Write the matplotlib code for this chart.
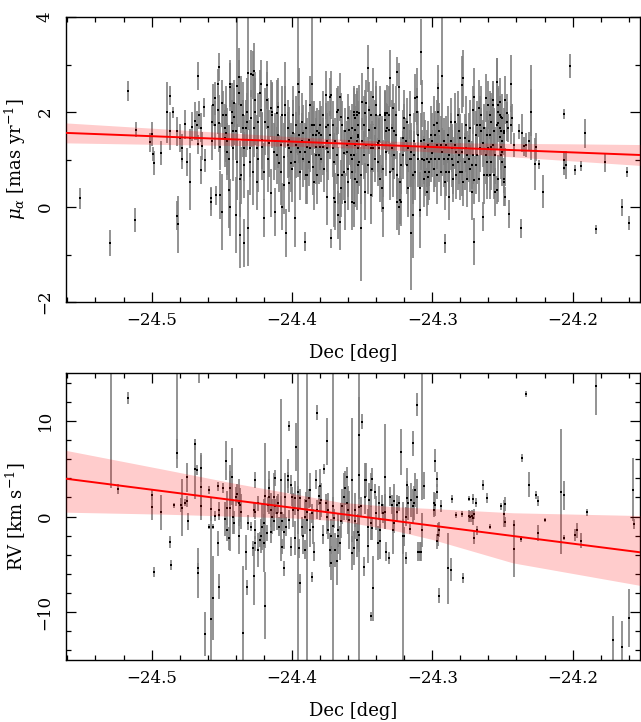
import matplotlib
matplotlib.use('Agg')
from matplotlib import pyplot as plt
from matplotlib.ticker import MultipleLocator

plt.rcParams['font.family'] = 'DejaVu Serif'
plt.rcParams['mathtext.fontset'] = 'dejavuserif'

# ---------------- top panel: proper motion in RA vs Dec ----------------
# sparse left part
pm_dec_a = [-24.551, -24.530, -24.517, -24.512, -24.511, -24.501, -24.500, -24.499, -24.498, -24.493,
            -24.489, -24.487, -24.487, -24.485, -24.482, -24.482, -24.481, -24.480, -24.478, -24.478,
            -24.476, -24.475, -24.473, -24.473, -24.471, -24.469, -24.468, -24.467, -24.467, -24.466,
            -24.465, -24.465, -24.464, -24.463, -24.462]
pm_a = [0.18, -0.76, 2.44, -0.27, 1.63, 1.36, 1.54, 1.11, 0.93, 1.13,
        1.99, 2.34, 1.61, 1.99, 1.59, -0.18, -0.36, 1.45, 1.24, 1.01,
        1.74, 0.95, 0.53, 1.45, 1.69, 1.81, 1.72, 2.76, 1.32, 1.94,
        1.67, 0.78, 1.28, 2.10, 0.98]
pm_err_a = [0.23, 0.27, 0.21, 0.25, 0.15, 0.20, 0.25, 0.15, 0.25, 0.25,
            0.64, 0.20, 0.40, 0.12, 0.30, 0.30, 0.60, 0.30, 0.30, 0.20,
            0.30, 0.30, 0.60, 0.20, 0.30, 0.40, 0.30, 0.30, 0.20, 0.30,
            0.30, 0.30, 0.30, 0.20, 0.25]

# dense part, -24.46 .. -24.35
pm_dec_b = [-24.458, -24.458, -24.457, -24.457, -24.456, -24.455, -24.455, -24.454, -24.453, -24.453,
            -24.452, -24.452, -24.451, -24.451, -24.450, -24.450, -24.449, -24.448, -24.448, -24.447,
            -24.447, -24.446, -24.446, -24.445, -24.445, -24.444, -24.444, -24.444, -24.443, -24.443,
            -24.442, -24.442, -24.441, -24.441, -24.440, -24.440, -24.439, -24.439, -24.438, -24.438,
            -24.437, -24.437, -24.436, -24.436, -24.435, -24.435, -24.434, -24.434, -24.434, -24.433,
            -24.432, -24.432, -24.431, -24.431, -24.430, -24.430, -24.429, -24.429, -24.428, -24.428,
            -24.427, -24.427, -24.426, -24.426, -24.425, -24.425, -24.424, -24.424, -24.423, -24.422,
            -24.422, -24.421, -24.421, -24.420, -24.420, -24.419, -24.418, -24.418, -24.417, -24.417,
            -24.416, -24.415, -24.415, -24.414, -24.414, -24.413, -24.412, -24.412, -24.411, -24.411,
            -24.410, -24.410, -24.409, -24.408, -24.408, -24.407, -24.407, -24.406, -24.406, -24.405,
            -24.405, -24.404, -24.403, -24.403, -24.402, -24.402, -24.402, -24.401, -24.401, -24.400,
            -24.399, -24.399, -24.398, -24.398, -24.397, -24.397, -24.396, -24.396, -24.395, -24.395,
            -24.394, -24.394, -24.393, -24.393, -24.392, -24.392, -24.391, -24.391, -24.390, -24.390,
            -24.389, -24.389, -24.388, -24.388, -24.387, -24.387, -24.386, -24.386, -24.385, -24.385,
            -24.384, -24.384, -24.383, -24.383, -24.383, -24.382, -24.382, -24.381, -24.381, -24.380,
            -24.380, -24.379, -24.379, -24.378, -24.378, -24.377, -24.376, -24.376, -24.375, -24.375,
            -24.375, -24.374, -24.374, -24.373, -24.373, -24.372, -24.372, -24.371, -24.371, -24.370,
            -24.370, -24.369, -24.369, -24.368, -24.368, -24.367, -24.367, -24.367, -24.366, -24.366,
            -24.365, -24.365, -24.364, -24.364, -24.363, -24.363, -24.362, -24.362, -24.361, -24.361,
            -24.360, -24.360, -24.360, -24.359, -24.359, -24.358, -24.358, -24.357, -24.357, -24.356,
            -24.356, -24.355, -24.355, -24.354, -24.354, -24.353, -24.353]
pm_b = [0.18, 0.11, 1.80, 1.38, 2.15, 2.29, 1.73, 0.25, 2.60, 2.04,
        2.95, 1.76, 1.27, 0.25, -0.10, 2.18, 1.94, 1.45, 1.66, 1.94,
        1.55, 1.38, 1.16, 1.02, 0.36, 2.53, 2.60, -0.01, 2.01, 1.76,
        1.59, 1.24, 2.18, 1.90, 1.59, -0.17, 0.95, 2.55, 2.74, 2.39,
        -0.59, 0.60, 0.67, 2.15, 1.94, 1.66, 1.24, -0.76, 0.88, 1.66,
        2.01, 1.80, 2.83, -0.45, 0.95, 1.24, 1.87, 2.81, 2.78, 0.74,
        1.66, 2.86, 2.01, 2.25, 1.24, 0.53, 1.80, 1.02, 2.39, 2.04,
        2.60, 1.41, 1.27, 0.74, -0.24, 1.80, 2.25, 2.57, 1.02, 1.69,
        1.34, 2.08, 0.29, 2.01, 1.94, 1.16, -0.10, 1.38, 1.97, 1.09,
        2.11, 1.52, 0.92, 0.74, 1.31, 1.94, 0.01, 1.06, 0.46, 2.15,
        1.94, -0.55, 1.31, 1.66, 0.50, 1.24, 1.41, 0.92, 1.16, 0.81,
        1.94, 1.55, -0.24, 0.95, 1.31, 1.73, 1.24, 2.60, 2.43, 1.52,
        1.16, 0.74, 1.80, 1.38, 1.02, 1.55, 1.16, -0.73, 0.67, 1.66,
        1.27, 0.67, 0.95, 1.41, 1.24, 2.15, 2.60, 1.73, 0.85, 1.52,
        0.53, 1.73, 1.09, 1.52, 1.27, 1.59, 0.67, 1.55, 1.09, 1.73,
        1.27, 1.52, 1.02, 1.94, 1.27, 0.81, 2.36, 1.69, 1.38, 1.24,
        0.22, 1.73, 1.16, 1.52, 2.32, 2.36, -0.66, 1.73, 1.24, 0.18,
        0.95, 1.38, 0.11, 1.09, 2.01, 2.04, -0.17, 0.67, -0.31, 2.32,
        0.39, 1.90, 1.73, 0.67, 1.13, 0.74, 1.59, 0.11, 1.16, 1.31,
        1.87, 0.81, 0.53, 1.38, 1.62, 1.45, 1.09, 0.11, 1.66, 2.01,
        1.09, 1.87, 0.60, 1.38, 2.01, 1.24, 1.52]
pm_err_b = [0.25, 0.3, 0.35, 0.4, 0.45, 0.35, 0.5, 0.2, 0.3, 0.5,
            0.3, 0.6, 0.5, 0.5, 0.8, 0.5, 0.5, 0.6, 0.5, 0.6,
            0.6, 0.7, 0.6, 0.7, 0.8, 0.5, 0.5, 0.6, 0.6, 0.5,
            0.6, 0.7, 0.5, 0.6, 0.6, 0.8, 0.8, 1.6, 0.6, 0.7,
            0.7, 0.8, 0.6, 0.6, 0.7, 0.6, 0.7, 0.5, 0.7, 0.6,
            0.7, 0.6, 1.2, 0.8, 0.7, 0.6, 0.6, 0.5, 0.5, 0.7,
            0.6, 0.6, 0.7, 0.6, 0.7, 0.6, 0.6, 0.7, 0.5, 0.6,
            0.5, 0.6, 0.7, 0.6, 0.4, 0.7, 0.6, 0.5, 0.7, 0.6,
            0.7, 0.6, 0.5, 0.6, 0.7, 0.6, 0.5, 0.6, 0.7, 0.6,
            0.6, 0.7, 0.6, 0.7, 0.6, 0.6, 0.5, 0.7, 0.6, 0.9,
            0.6, 0.5, 0.7, 0.6, 0.6, 0.6, 0.7, 0.6, 0.6, 0.7,
            0.6, 0.7, 0.6, 0.6, 0.7, 0.6, 0.6, 1.5, 0.5, 0.6,
            0.6, 0.6, 0.6, 0.6, 0.6, 0.6, 0.6, 0.2, 0.6, 0.6,
            0.6, 0.6, 0.5, 0.6, 0.5, 0.6, 1.5, 0.5, 0.6, 0.6,
            0.6, 0.5, 0.6, 0.5, 0.6, 0.5, 0.6, 0.5, 0.6, 0.5,
            0.5, 0.6, 0.5, 0.5, 0.6, 0.5, 0.5, 0.5, 0.6, 0.5,
            0.6, 0.5, 0.6, 0.5, 0.4, 0.5, 0.2, 0.5, 0.6, 0.6,
            0.6, 0.5, 0.6, 0.6, 0.5, 0.5, 0.5, 0.6, 0.6, 0.5,
            0.6, 0.5, 0.5, 0.6, 0.5, 0.6, 0.5, 0.6, 0.5, 0.5,
            0.5, 0.6, 0.6, 0.5, 0.5, 0.6, 0.5, 0.6, 0.5, 0.5,
            0.5, 0.5, 0.6, 0.5, 0.5, 0.5, 0.5]

# dense part, -24.36 .. -24.25
pm_dec_c = [-24.357, -24.357, -24.356, -24.356, -24.355, -24.355, -24.354, -24.354, -24.353, -24.353,
            -24.353, -24.352, -24.352, -24.351, -24.351, -24.350, -24.350, -24.349, -24.349, -24.348,
            -24.348, -24.347, -24.347, -24.346, -24.346, -24.345, -24.345, -24.344, -24.344, -24.344,
            -24.343, -24.343, -24.342, -24.342, -24.341, -24.341, -24.340, -24.340, -24.339, -24.339,
            -24.338, -24.338, -24.337, -24.337, -24.336, -24.336, -24.335, -24.335, -24.334, -24.334,
            -24.334, -24.333, -24.333, -24.332, -24.332, -24.331, -24.331, -24.330, -24.330, -24.329,
            -24.329, -24.328, -24.328, -24.327, -24.327, -24.326, -24.326, -24.325, -24.325, -24.325,
            -24.324, -24.324, -24.323, -24.323, -24.322, -24.322, -24.321, -24.321, -24.320, -24.320,
            -24.319, -24.318, -24.318, -24.317, -24.317, -24.316, -24.316, -24.315, -24.315, -24.315,
            -24.314, -24.314, -24.313, -24.313, -24.312, -24.312, -24.311, -24.311, -24.310, -24.310,
            -24.309, -24.309, -24.308, -24.308, -24.307, -24.307, -24.306, -24.306, -24.306, -24.305,
            -24.305, -24.304, -24.304, -24.303, -24.303, -24.302, -24.302, -24.301, -24.301, -24.300,
            -24.300, -24.299, -24.299, -24.298, -24.298, -24.297, -24.297, -24.297, -24.296, -24.296,
            -24.295, -24.295, -24.294, -24.294, -24.293, -24.293, -24.292, -24.292, -24.291, -24.291,
            -24.290, -24.290, -24.289, -24.289, -24.288, -24.288, -24.288, -24.287, -24.287, -24.286,
            -24.286, -24.285, -24.285, -24.284, -24.284, -24.283, -24.283, -24.282, -24.282, -24.281,
            -24.281, -24.280, -24.280, -24.279, -24.279, -24.279, -24.278, -24.278, -24.277, -24.277,
            -24.276, -24.276, -24.275, -24.275, -24.274, -24.274, -24.273, -24.273, -24.272, -24.272,
            -24.271, -24.271, -24.270, -24.270, -24.270, -24.269, -24.269, -24.268, -24.268, -24.267,
            -24.267, -24.266, -24.266, -24.265, -24.265, -24.264, -24.264, -24.263, -24.263, -24.262,
            -24.262, -24.261, -24.261, -24.261, -24.260, -24.260, -24.259, -24.259, -24.258, -24.258,
            -24.257, -24.257, -24.256, -24.256, -24.255, -24.255, -24.254, -24.254, -24.253, -24.253,
            -24.252, -24.252, -24.251, -24.251, -24.250, -24.250, -24.249, -24.249]
pm_c = [1.02, 0.74, 0.08, 1.94, 1.31, 1.62, 0.53, 1.94, 0.88, 1.73,
        1.48, 0.95, 1.97, -0.45, 0.67, 1.38, 2.22, 1.09, 1.73, 0.32,
        1.97, 1.31, 2.18, 2.92, 0.88, 1.62, 2.04, 1.24, 0.25, 1.94,
        0.81, 1.31, 2.32, 1.24, 1.66, 1.02, 1.94, 2.15, 1.34, 0.95,
        1.24, 1.38, 1.94, 0.60, 1.31, 0.39, 0.81, -0.03, 1.94, 1.83,
        1.97, 1.59, 1.16, 1.97, 1.66, 1.94, 1.62, 2.71, 0.74, 1.24,
        1.66, 2.08, 0.81, 1.09, 1.59, 1.52, 1.94, 0.67, 0.11, 2.85,
        2.53, 0.01, 0.15, 0.53, 0.11, 0.88, 1.09, 1.45, 1.66, 1.87,
        1.38, 0.88, 1.80, 0.39, 1.24, 1.02, 1.94, 1.16, -0.55, 1.02,
        -0.17, 0.67, 1.09, 1.38, 2.29, 0.74, 2.01, 2.32, 1.52, 1.02,
        0.39, -0.06, 1.38, 3.26, 1.02, 2.18, 0.60, 0.99, 1.41, 0.74,
        1.24, 0.32, 1.02, 1.31, 0.64, 0.95, 0.74, 1.02, 1.52, 1.13,
        1.38, 0.81, 1.73, 1.52, 1.02, 1.31, 0.67, 1.76, 2.50, 2.01,
        1.02, 1.59, 0.74, 1.31, 2.76, 1.16, 1.02, 1.38, 0.53, -0.76,
        0.74, 1.31, 1.02, 1.52, 0.22, 1.09, 0.74, 1.38, 1.80, 1.02,
        1.24, 0.88, 0.60, 1.80, 1.31, 1.16, 0.67, 0.95, 1.94, 1.09,
        1.59, 0.74, 1.45, 2.57, 0.74, 1.16, 0.53, 2.71, 1.45, 0.95,
        1.24, 1.73, 1.09, 0.60, 1.02, 1.38, 0.81, 1.66, 0.88, 0.32,
        2.04, 1.09, 0.57, -0.73, 2.32, 1.52, 0.88, 1.73, 1.09, 0.60,
        2.08, 1.24, 1.73, 1.59, 1.94, -0.20, 1.34, 0.67, 1.66, 1.09,
        2.29, 0.95, 1.52, 0.67, 2.15, 1.24, 1.94, 1.52, 0.95, 1.80,
        2.15, 1.31, 0.67, 1.59, 1.09, 0.32, 1.73, 2.64, 2.01, 0.60,
        2.22, 1.48, 1.09, 1.27, 1.87, 0.95, 1.59, 0.53]
pm_err_c = [0.5, 0.6, 0.5, 0.6, 0.6, 0.5, 0.6, 0.5, 0.6, 0.5,
            0.6, 0.5, 0.6, 1.1, 0.6, 0.5, 0.6, 0.5, 0.6, 0.6,
            0.5, 0.6, 0.5, 0.5, 0.6, 0.5, 0.6, 0.5, 0.6, 0.5,
            0.6, 0.5, 0.6, 0.5, 0.6, 0.5, 0.6, 0.5, 0.6, 0.5,
            0.6, 0.5, 0.6, 0.5, 0.6, 0.5, 0.6, 0.6, 0.5, 0.6,
            0.5, 0.6, 0.5, 0.6, 0.5, 0.6, 0.5, 0.6, 0.6, 0.5,
            0.6, 0.5, 0.6, 0.5, 0.6, 0.5, 0.6, 0.5, 0.6, 0.3,
            0.5, 0.6, 0.5, 0.6, 0.5, 0.6, 0.5, 0.6, 0.5, 0.6,
            0.5, 0.6, 0.5, 0.6, 0.5, 0.6, 0.5, 0.6, 1.2, 0.6,
            0.9, 0.6, 0.5, 0.6, 0.5, 0.6, 0.5, 0.6, 0.5, 0.6,
            0.6, 0.8, 0.6, 0.7, 0.6, 0.5, 0.6, 0.5, 0.6, 0.5,
            0.6, 0.5, 0.6, 0.5, 0.6, 0.5, 0.6, 0.5, 0.6, 0.5,
            0.6, 0.5, 0.6, 0.5, 0.6, 0.5, 0.6, 0.5, 0.5, 0.6,
            0.5, 0.6, 0.5, 0.6, 1.4, 0.5, 0.6, 0.5, 0.6, 0.2,
            0.5, 0.6, 0.5, 0.6, 0.5, 0.6, 0.5, 0.6, 0.5, 0.6,
            0.5, 0.6, 0.5, 0.6, 0.5, 0.6, 0.5, 0.6, 0.5, 0.6,
            0.5, 0.6, 0.5, 0.6, 0.5, 0.6, 0.5, 0.6, 0.5, 0.6,
            0.5, 0.6, 0.5, 0.6, 0.5, 0.6, 0.5, 0.6, 0.5, 0.6,
            0.5, 0.6, 0.5, 0.5, 0.6, 0.5, 0.6, 0.5, 0.6, 0.5,
            0.6, 0.5, 0.6, 0.5, 0.6, 0.3, 0.5, 0.6, 0.5, 0.6,
            0.5, 0.6, 0.5, 0.5, 0.5, 0.6, 0.5, 0.5, 0.6, 0.5,
            0.5, 0.6, 0.5, 0.5, 0.6, 0.5, 0.5, 0.5, 0.5, 0.5,
            0.5, 0.5, 0.5, 0.5, 0.5, 0.5, 0.5, 0.5]

# right part, thinning out
pm_dec_d = [-24.258, -24.258, -24.259, -24.257, -24.257, -24.254, -24.254, -24.253, -24.253, -24.252,
            -24.252, -24.251, -24.251, -24.250, -24.250, -24.249, -24.248, -24.249, -24.248, -24.248,
            -24.247, -24.247, -24.246, -24.245, -24.244, -24.244, -24.243, -24.242, -24.237, -24.238,
            -24.236, -24.235, -24.233, -24.231, -24.230, -24.230, -24.227, -24.226, -24.224, -24.221,
            -24.206, -24.206, -24.206, -24.205, -24.202, -24.198, -24.194, -24.191, -24.183, -24.177,
            -24.165, -24.161, -24.160]
pm_d = [1.27, 1.80, 0.67, 2.15, 2.25, 0.36, 2.64, 2.15, 1.76, 1.94,
        1.66, 1.90, 1.59, 1.39, 1.16, 1.55, 0.85, 0.60, 2.25, 0.22,
        1.97, 1.80, 1.66, -0.15, 2.60, 1.73, 1.87, 1.31, -0.45, 1.59,
        1.55, 1.28, 1.31, 1.38, 1.99, 1.99, 0.90, 1.26, 0.90, 0.32,
        0.83, 1.96, 0.98, 0.88, 2.97, 0.78, 0.86, 1.55, -0.47, 0.94,
        -0.01, 0.74, -0.34]
pm_err_d = [0.6, 0.6, 0.5, 0.4, 0.4, 0.3, 0.5, 0.4, 0.4, 0.4,
            0.3, 0.3, 0.4, 0.5, 0.3, 0.4, 0.4, 0.3, 0.5, 0.2,
            0.4, 0.4, 0.3, 0.3, 0.6, 0.4, 0.3, 0.25, 0.2, 0.15,
            0.4, 0.2, 0.25, 0.2, 1.0, 0.5, 0.55, 0.3, 0.1, 0.35,
            0.15, 0.1, 0.2, 0.3, 0.25, 0.1, 0.1, 0.3, 0.1, 0.2,
            0.18, 0.1, 0.15]

# fitted trend and its confidence band
pm_fit_dec = [-24.561, -24.152]
pm_fit = [1.56, 1.095]
pm_band_dec = [-24.561, -24.50, -24.45, -24.40, -24.35, -24.30, -24.25, -24.20, -24.152]
pm_band_lo = [1.35, 1.32, 1.30, 1.28, 1.235, 1.16, 1.07, 0.97, 0.875]
pm_band_hi = [1.77, 1.66, 1.57, 1.48, 1.405, 1.36, 1.34, 1.33, 1.315]

# ---------------- bottom panel: radial velocity vs Dec ----------------
rv_dec_e = [-24.529, -24.524, -24.517, -24.500, -24.500, -24.498, -24.493, -24.487, -24.486, -24.484,
            -24.482, -24.482, -24.479, -24.478, -24.476, -24.475, -24.475, -24.474, -24.469, -24.469,
            -24.468, -24.467, -24.467, -24.466, -24.465, -24.465, -24.465, -24.462, -24.459, -24.459,
            -24.458, -24.458, -24.456, -24.456]
rv_e = [25.0, 2.89, 12.37, 2.26, 0.98, -5.82, 0.42, -2.68, -5.05, 1.15,
        6.59, 25.0, 1.22, 0.94, 1.46, 1.57, 4.11, -0.52, 7.53, 4.95,
        4.88, -5.92, -5.37, 18.0, 5.09, 3.07, 1.05, -12.3, -1.05, 2.79,
        -10.7, 0.77, -8.54, -1.05]
rv_err_e = [22.0, 0.5, 0.6, 0.5, 1.3, 0.5, 1.8, 0.6, 0.5, 0.3,
            1.5, 19.0, 0.7, 3.0, 0.4, 0.6, 1.5, 0.9, 0.6, 3.1,
            0.5, 2.6, 0.5, 4.0, 1.5, 3.4, 1.0, 2.3, 0.3, 0.4,
            10.8, 1.2, 4.4, 0.3]

rv_dec_f = [-24.455, -24.453, -24.453, -24.452, -24.452, -24.452, -24.449, -24.448, -24.447, -24.446,
            -24.446, -24.445, -24.444, -24.444, -24.443, -24.442, -24.441, -24.440, -24.439, -24.438,
            -24.438, -24.437, -24.436, -24.435, -24.433, -24.432, -24.431, -24.429, -24.428, -24.427,
            -24.427, -24.426, -24.426, -24.426, -24.426, -24.424, -24.424, -24.423, -24.422, -24.421,
            -24.420, -24.420, -24.419, -24.419, -24.418, -24.417, -24.416, -24.416, -24.415, -24.415,
            -24.414, -24.413, -24.413, -24.412, -24.412, -24.411, -24.410, -24.409, -24.408, -24.408,
            -24.407, -24.407, -24.406, -24.406, -24.405, -24.404, -24.403, -24.403, -24.402, -24.402,
            -24.401, -24.401, -24.400, -24.399, -24.398, -24.398, -24.397, -24.396, -24.396, -24.395,
            -24.394, -24.394, -24.393, -24.392, -24.391, -24.391, -24.390, -24.389, -24.389, -24.388,
            -24.387, -24.387, -24.386, -24.386, -24.385, -24.384, -24.383, -24.382, -24.382, -24.381,
            -24.380, -24.380, -24.379, -24.378, -24.377, -24.376, -24.375, -24.375, -24.374, -24.374,
            -24.373, -24.372, -24.372, -24.371, -24.371, -24.370, -24.369, -24.368, -24.367, -24.367,
            -24.366, -24.365, -24.364, -24.363, -24.362, -24.361, -24.361, -24.360, -24.359]
rv_f = [0.07, -2.79, 3.14, 0.17, -7.32, 0.70, 2.96, -0.24, 5.85, 0.87,
        -1.39, -2.26, 2.96, 0.87, 4.18, 0.00, -0.63, 2.09, 2.37, 1.46,
        -2.09, 1.22, 0.52, -12.2, -3.76, -7.39, -0.63, -1.05, -3.34, -6.20,
        0.70, -1.39, 0.52, 3.83, -2.79, 1.39, -3.48, -2.44, -2.02, -1.05,
        -0.70, -2.79, -9.34, 2.16, -1.74, 1.22, 2.09, 2.96, 0.70, -1.57,
        0.00, -0.52, 2.09, 1.05, 4.01, 0.35, 1.39, -1.05, 0.35, 3.83,
        -3.14, -0.52, -5.40, -1.57, 2.09, -1.05, 4.25, 3.83, 9.48, -0.35,
        3.31, -3.14, 2.09, 0.70, -2.26, 1.92, 7.25, 0.70, 2.60, -3.31,
        -6.97, 1.92, -1.05, -2.09, 0.00, -3.48, 1.57, 0.50, -0.35, 1.92,
        -1.39, 2.79, 0.35, -6.34, -1.05, -3.66, 3.83, 10.87, 0.70, 2.16,
        1.39, 3.14, 1.74, -1.92, 4.95, 1.39, 7.84, 0.00, -1.39, 0.70,
        -3.48, -2.09, -4.88, -1.00, 1.05, -0.17, -3.48, -4.70, -2.09, -1.39,
        -2.79, -0.42, 1.05, 2.09, 2.96, 4.18, 1.39, 0.70, -0.35]
rv_err_f = [0.5, 1.3, 0.5, 0.5, 1.3, 0.8, 0.5, 1.8, 2.0, 1.8,
            1.2, 1.2, 1.8, 4.5, 3.0, 1.8, 1.2, 1.0, 1.0, 2.5,
            1.8, 1.8, 1.8, 7.0, 1.8, 0.8, 0.8, 0.5, 0.8, 3.0,
            0.8, 1.0, 0.8, 0.8, 0.8, 0.8, 1.8, 0.8, 1.8, 2.5,
            2.5, 3.0, 3.5, 5.5, 0.8, 0.8, 1.8, 1.8, 1.8, 1.2,
            1.8, 1.0, 2.5, 0.8, 0.8, 1.8, 1.0, 1.0, 1.8, 8.5,
            0.8, 1.0, 0.8, 1.8, 2.5, 1.0, 1.8, 0.8, 0.5, 1.0,
            1.0, 1.0, 1.0, 1.8, 1.8, 1.8, 2.5, 2.5, 30.0, 1.0,
            1.0, 1.0, 1.0, 1.8, 1.8, 1.0, 1.0, 30.0, 1.0, 1.0,
            1.8, 1.8, 1.0, 0.5, 1.8, 1.0, 1.0, 0.8, 1.0, 1.0,
            1.8, 1.8, 1.8, 1.0, 0.5, 1.0, 2.5, 1.8, 1.0, 1.8,
            1.8, 1.8, 1.8, 30.0, 1.0, 1.0, 1.8, 2.5, 1.8, 1.8,
            1.8, 1.8, 1.8, 2.5, 1.8, 1.0, 1.8, 2.5, 3.0]

rv_dec_g = [-24.357, -24.357, -24.356, -24.355, -24.355, -24.354, -24.353, -24.352, -24.352, -24.352,
            -24.352, -24.351, -24.350, -24.349, -24.348, -24.348, -24.347, -24.346, -24.346, -24.345,
            -24.344, -24.344, -24.344, -24.343, -24.343, -24.342, -24.341, -24.340, -24.339, -24.338,
            -24.337, -24.337, -24.336, -24.335, -24.334, -24.334, -24.333, -24.331, -24.330, -24.329,
            -24.328, -24.327, -24.327, -24.325, -24.325, -24.324, -24.322, -24.321, -24.321, -24.320,
            -24.319, -24.319, -24.318, -24.318, -24.317, -24.316, -24.315, -24.314, -24.314, -24.313,
            -24.312, -24.311, -24.311, -24.310, -24.309, -24.308, -24.307, -24.307, -24.306, -24.299,
            -24.299, -24.298, -24.298, -24.297, -24.297, -24.297, -24.296, -24.295, -24.294, -24.295,
            -24.289, -24.287, -24.286, -24.283, -24.279, -24.278, -24.274, -24.274, -24.273, -24.272,
            -24.271, -24.271, -24.270, -24.270, -24.269, -24.268, -24.264, -24.261, -24.259, -24.251]
rv_g = [-3.83, 3.83, -3.31, -0.52, 0.70, -2.44, -1.57, 4.36, -1.92, 8.54,
        1.00, 1.05, 9.93, -5.23, 2.09, 3.83, 3.83, -3.07, -1.05, 1.74,
        2.79, -10.45, -0.70, 3.90, -1.22, -7.49, 2.61, 0.35, -2.79, 1.39,
        -1.39, -2.61, 1.22, 0.35, 4.18, 0.52, -3.66, -4.36, 2.09, 1.22,
        -1.39, 1.57, -0.70, 0.52, 1.22, 1.39, 6.79, -25.0, -2.09, -2.09,
        -4.36, 0.00, 3.31, 1.92, 1.39, -1.32, 1.74, 1.11, 7.67, 1.39,
        2.79, 11.67, 2.09, -3.66, -3.66, -3.66, -1.39, 20.0, 3.21, 0.70,
        1.39, 1.22, 5.82, 2.61, 3.90, -2.61, -1.92, -1.39, 1.11, -8.29,
        -5.40, -5.57, 1.81, 0.17, 0.28, -6.45, 1.88, 0.07, 0.00, 0.07,
        -0.17, 1.81, 0.28, -2.26, 1.46, -1.46, 3.31, 1.92, -1.05, 1.05]
rv_err_g = [1.8, 6.5, 1.8, 1.8, 1.8, 1.8, 1.8, 2.5, 1.8, 4.0,
            40.0, 1.0, 0.8, 1.0, 1.8, 1.8, 1.8, 1.8, 1.8, 1.8,
            1.8, 0.5, 1.8, 1.2, 1.2, 3.4, 0.8, 1.8, 1.8, 1.8,
            1.2, 1.8, 1.0, 1.0, 5.5, 1.8, 1.0, 0.6, 1.0, 1.0,
            2.5, 1.8, 1.0, 1.0, 1.0, 0.8, 2.4, 26.5, 1.8, 1.0,
            0.6, 1.0, 1.8, 1.8, 1.8, 0.5, 1.8, 1.8, 1.3, 1.8,
            1.8, 1.2, 1.8, 1.0, 1.0, 1.0, 1.8, 18.3, 1.4, 0.8,
            1.2, 1.2, 1.2, 0.8, 0.8, 0.8, 1.2, 0.8, 0.6, 0.8,
            3.7, 1.2, 0.4, 0.3, 0.3, 0.5, 0.3, 0.6, 0.6, 0.6,
            0.7, 0.5, 0.5, 0.6, 0.5, 0.5, 0.5, 0.5, 0.3, 0.4]

rv_dec_h = [-24.249, -24.248, -24.248, -24.242, -24.242, -24.237, -24.236, -24.233, -24.231, -24.226,
            -24.225, -24.225, -24.220, -24.208, -24.206, -24.206, -24.198, -24.197, -24.194, -24.190,
            -24.183, -24.171, -24.165, -24.160, -24.157, -24.156]
rv_h = [0.28, -0.56, 1.32, -3.41, -0.87, -2.33, 6.10, 12.82, 3.31, 2.26,
        -1.74, 1.64, -0.35, 2.61, 2.23, -2.20, -1.95, -1.46, -2.51, 0.42,
        13.66, -12.9, -13.6, -10.6, 2.79, -0.80]
rv_err_h = [1.4, 0.5, 0.7, 2.9, 0.5, 0.3, 0.4, 0.3, 1.3, 0.4,
            0.8, 0.5, 0.2, 6.5, 1.5, 0.3, 0.6, 0.8, 0.8, 0.4,
            3.0, 2.5, 2.7, 3.0, 3.3, 0.5]

rv_fit_dec = [-24.561, -24.152]
rv_fit = [3.95, -3.74]
rv_band_dec = [-24.561, -24.49, -24.442, -24.40, -24.366, -24.33, -24.30, -24.2425, -24.152]
rv_band_lo = [0.45, 0.24, 0.03, -0.15, -0.45, -1.36, -2.4, -4.85, -7.2]
rv_band_hi = [6.91, 4.89, 3.5, 2.4, 1.5, 1.05, 0.83, 0.39, 0.1]


def draw_points(ax, dec, val, err):
    ax.errorbar(dec, val, yerr=err, fmt='none', ecolor='#808080',
                elinewidth=1.2, capsize=0, zorder=1)
    ax.plot(dec, val, 's', color='black', ms=1.8, mew=0, zorder=2)


def style_axes(ax, ymajor, yminor):
    ax.set_xlim(-24.561, -24.152)
    ax.xaxis.set_major_locator(MultipleLocator(0.1))
    ax.xaxis.set_minor_locator(MultipleLocator(0.02))
    ax.yaxis.set_major_locator(MultipleLocator(ymajor))
    ax.yaxis.set_minor_locator(MultipleLocator(yminor))
    ax.tick_params(which='both', direction='in', top=True, right=True, width=0.9)
    ax.tick_params(which='major', length=7)
    ax.tick_params(which='minor', length=3.5)
    ax.tick_params(axis='x', labelsize=12, pad=7)
    ax.tick_params(axis='y', labelsize=12, pad=9, labelrotation=90)
    for t in ax.get_yticklabels():
        t.set_verticalalignment('center')
    for s in ax.spines.values():
        s.set_linewidth(1.0)
    ax.set_xlabel('Dec [deg]', fontsize=13, labelpad=11)


fig = plt.figure(figsize=(6.41, 7.22), dpi=100)
ax1 = fig.add_axes([66 / 641, 1 - 302 / 722, 574 / 641, 285 / 722])
ax2 = fig.add_axes([66 / 641, 1 - 660 / 722, 574 / 641, 287 / 722])

for d, v, e in [(pm_dec_a, pm_a, pm_err_a), (pm_dec_b, pm_b, pm_err_b),
                (pm_dec_c, pm_c, pm_err_c), (pm_dec_d, pm_d, pm_err_d)]:
    draw_points(ax1, d, v, e)
ax1.fill_between(pm_band_dec, pm_band_lo, pm_band_hi, color='#ff0000', alpha=0.2, lw=0, zorder=3)
ax1.plot(pm_fit_dec, pm_fit, color='#ff0000', lw=1.4, zorder=4)
ax1.set_ylim(-2, 4)
style_axes(ax1, 2, 1)
ax1.set_ylabel(r'$\mu_\alpha$ [mas yr$^{-1}$]', fontsize=13, labelpad=6)

for d, v, e in [(rv_dec_e, rv_e, rv_err_e), (rv_dec_f, rv_f, rv_err_f),
                (rv_dec_g, rv_g, rv_err_g), (rv_dec_h, rv_h, rv_err_h)]:
    draw_points(ax2, d, v, e)
ax2.fill_between(rv_band_dec, rv_band_lo, rv_band_hi, color='#ff0000', alpha=0.2, lw=0, zorder=3)
ax2.plot(rv_fit_dec, rv_fit, color='#ff0000', lw=1.4, zorder=4)
ax2.set_ylim(-15, 15)
style_axes(ax2, 10, 2)
ax2.set_ylabel(r'RV [km s$^{-1}$]', fontsize=13, labelpad=6)

fig.savefig('out.png', dpi=100)
